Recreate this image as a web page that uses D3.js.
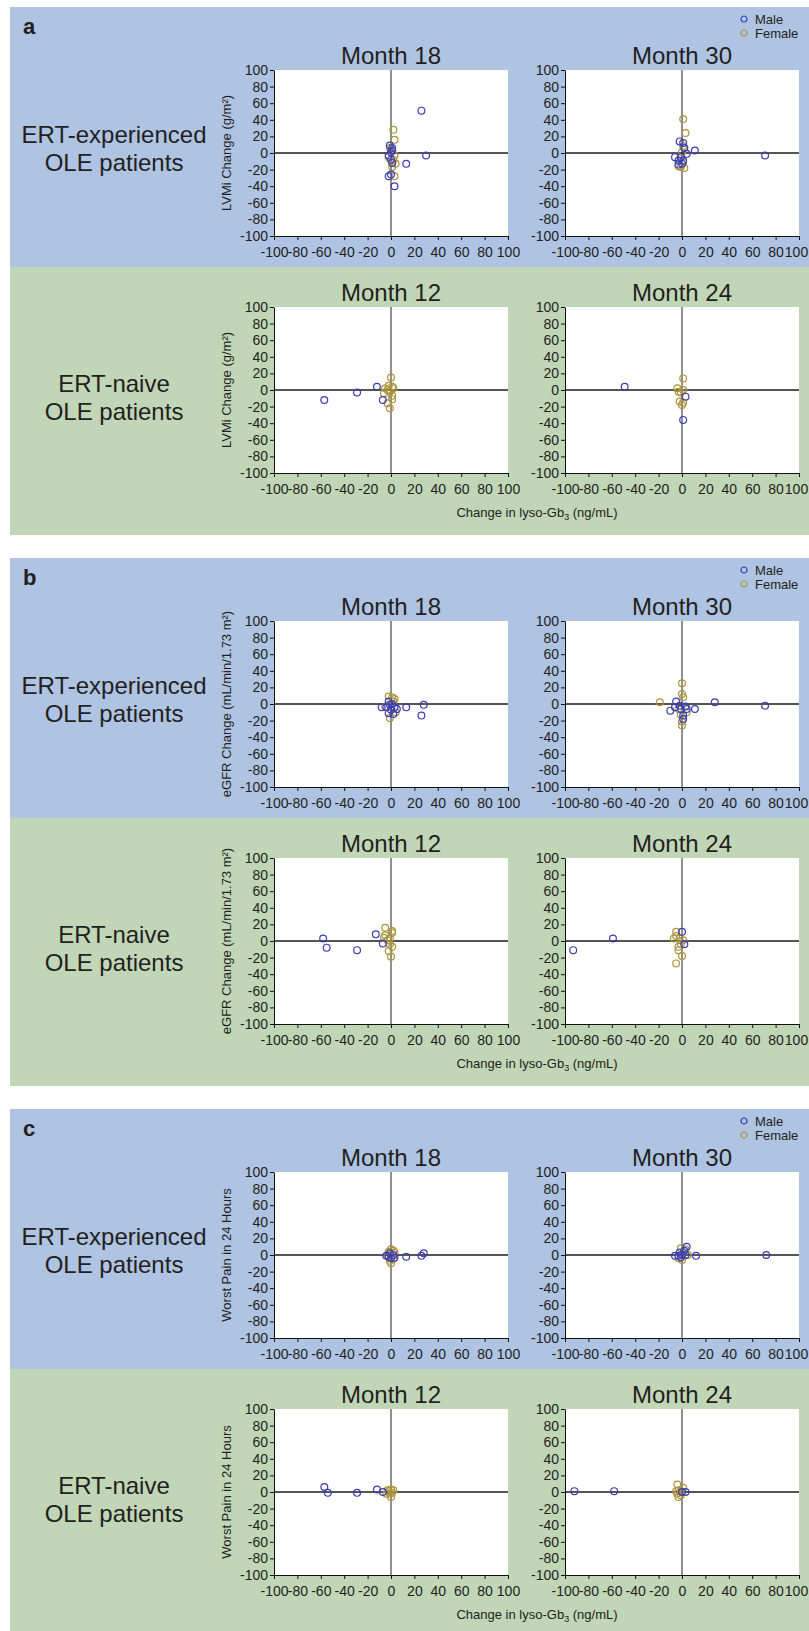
<!DOCTYPE html>
<html>
<head>
<meta charset="utf-8">
<script src="https://cdn.jsdelivr.net/npm/d3@7"></script>
<style>
  body { margin: 0; background: #fff; }
  svg text { font-family: Arial, 'Liberation Sans', Helvetica, sans-serif; fill: #231f20; }
</style>
</head>
<body>
<script>
const tickValues = [-100, -80, -60, -40, -20, 0, 20, 40, 60, 80, 100];
const sectionLetters = ['a', 'b', 'c'];
const rowLabels = [['ERT-experienced', 'OLE patients'], ['ERT-naive', 'OLE patients']];
const monthLabels = [['Month 18', 'Month 30'], ['Month 12', 'Month 24']];
const yAxisLabels = ['LVMi Change (g/m²)', 'eGFR Change (mL/min/1.73 m²)', 'Worst Pain in 24 Hours'];
const legendLabels = ['Male', 'Female'];

// [change in lyso-Gb3, change in outcome]
const lvmiExp18Male = [[26, 51], [30, -3], [13, -13], [3, -40], [-2, -28], [0, -26], [1, 6], [1, 3], [-2, -3], [0, -8], [1, -12], [-1, 9], [0, 1]];
const lvmiExp18Female = [[2, 28], [3, 16], [-1, 6], [-2, -5], [4, -13], [3, -28], [1, -17], [3, -3], [2, -8]];
const lvmiExp30Male = [[71, -3], [11, 3], [-2, 14], [1, 12], [-6, -5], [-3, -9], [-1, -5], [1, -9], [0, -13], [-3, -14], [4, -1], [2, 6]];
const lvmiExp30Female = [[1, 41], [3, 24], [1, 8], [0, 1], [-3, -16], [2, -18], [1, -11], [-1, -17]];
const lvmiNaive12Male = [[-57, -12], [-29, -3], [-12, 4], [-7, -12]];
const lvmiNaive12Female = [[0, 15], [-2, 5], [-5, 2], [-6, -4], [-3, 0], [2, 2], [1, -7], [1, -11], [-3, -16], [-1, -22], [-1, -2], [1, 4]];
const lvmiNaive24Male = [[-49, 4], [3, -8], [1, -36]];
const lvmiNaive24Female = [[1, 14], [-4, 2], [-3, -2], [1, 0], [-2, -14], [0, -18], [1, -15], [-1, -3]];

const egfrExp18Male = [[28, -1], [26, -14], [13, -4], [-8, -4], [-2, 3], [-1, -1], [1, 0], [3, -4], [-2, -11], [2, -12], [0, -7], [5, -6], [-4, -4]];
const egfrExp18Female = [[-2, 9], [1, 8], [3, 6], [-1, -17], [-5, -3], [2, 3], [4, -10]];
const egfrExp30Male = [[71, -2], [28, 2], [11, -6], [-5, 3], [-10, -8], [-6, -4], [-2, -2], [3, -3], [1, -14], [1, -18], [-1, -6], [4, -6]];
const egfrExp30Female = [[-19, 2], [0, 25], [0, 12], [1, 8], [4, -10], [0, -26], [-1, -13], [-3, -6], [0, -21]];
const egfrNaive12Male = [[-58, 3], [-55, -8], [-29, -11], [-13, 8], [-7, -3]];
const egfrNaive12Female = [[-5, 16], [-5, 7], [-6, 4], [-1, 3], [1, 12], [1, 10], [-1, -4], [1, -7], [-2, -12], [0, -19], [-3, 1]];
const egfrNaive24Male = [[-93, -11], [-59, 3], [0, 11], [2, -4]];
const egfrNaive24Female = [[-5, 11], [-7, 3], [-5, 6], [-2, 3], [-3, -7], [-3, -11], [0, -18], [-5, -27], [1, 1], [-1, -4]];

const painExp18Male = [[28, 2], [26, -1], [13, -2], [-4, -1], [-2, -2], [0, -4], [2, 0], [3, -3], [-1, 2]];
const painExp18Female = [[0, 7], [2, 5], [0, -10], [-1, -7], [3, 3], [-2, 4], [2, -5], [-3, 0]];
const painExp30Male = [[72, 0], [12, -1], [4, 10], [-6, -1], [-2, 3], [0, 0], [2, 5], [-3, -1], [3, 0], [-1, -3]];
const painExp30Female = [[0, -6], [-1, 8], [5, 0], [3, 7], [-3, -4], [1, 3]];
const painNaive12Male = [[-57, 6], [-54, -1], [-29, -1], [-12, 3], [-7, 0]];
const painNaive12Female = [[0, 3], [-2, 1], [1, -1], [0, -6], [-1, -2], [-3, 2], [2, 2], [-4, -2]];
const painNaive24Male = [[-92, 1], [-58, 1], [0, 0], [3, 0]];
const painNaive24Female = [[-4, 9], [-3, 2], [-4, -2], [-1, -4], [-3, -6], [-1, 0], [-5, 1], [1, 5]];

// sections -> rows (experienced, naive) -> months -> [male, female]
const panelData = [
  [[[lvmiExp18Male, lvmiExp18Female], [lvmiExp30Male, lvmiExp30Female]],
   [[lvmiNaive12Male, lvmiNaive12Female], [lvmiNaive24Male, lvmiNaive24Female]]],
  [[[egfrExp18Male, egfrExp18Female], [egfrExp30Male, egfrExp30Female]],
   [[egfrNaive12Male, egfrNaive12Female], [egfrNaive24Male, egfrNaive24Female]]],
  [[[painExp18Male, painExp18Female], [painExp30Male, painExp30Female]],
   [[painNaive12Male, painNaive12Female], [painNaive24Male, painNaive24Female]]]
];

const colors = ['#3a3eb2', '#ad943c'];
const bgColors = ['#afc3e2', '#c1d6b7'];

const width = 809;
const height = 1631;
const sectionTop = [7, 558, 1109];
const rowTop = [0, 260];
const rowHeight = [260, 268];
const plotTop = [63, 300];
const plotLeft = [274, 565];
const plotW = 234;
const plotH = 166;

const x = d3.scaleLinear().domain([-100, 100]).range([0, plotW]);
const y = d3.scaleLinear().domain([-100, 100]).range([plotH, 0]);

const svg = d3.select('body')
  .append('svg')
  .attr('width', width)
  .attr('height', height);

sectionLetters.forEach((letter, s) => {
  const sec = svg.append('g')
    .attr('transform', `translate(0,${sectionTop[s]})`);

  rowTop.forEach((rt, r) => {
    sec.append('rect')
      .attr('x', 10)
      .attr('y', rt)
      .attr('width', width - 10)
      .attr('height', rowHeight[r])
      .attr('fill', bgColors[r]);
  });

  sec.append('text')
    .attr('x', 23)
    .attr('y', 27)
    .style('font-size', '22px')
    .style('font-weight', 'bold')
    .text(letter);

  const legend = sec.selectAll('.legend')
    .data(legendLabels)
    .enter()
    .append('g')
    .attr('class', 'legend')
    .attr('transform', (d, i) => `translate(744,${12 + i * 14})`);

  legend.append('circle')
    .attr('r', 3)
    .attr('fill', 'none')
    .attr('stroke', (d, i) => colors[i])
    .attr('stroke-width', 1.2);

  legend.append('text')
    .attr('x', 11)
    .attr('dy', '0.35em')
    .style('font-size', '13px')
    .text(d => d);

  rowLabels.forEach((lines, r) => {
    const cy = plotTop[r] + plotH / 2;
    const off = r === 0 ? [-10, 18] : [2, 30];
    sec.append('text')
      .attr('text-anchor', 'middle')
      .attr('x', 114)
      .attr('y', cy)
      .style('font-size', '24px')
      .selectAll('tspan')
      .data(lines)
      .enter()
      .append('tspan')
      .attr('x', 114)
      .attr('y', (d, i) => cy + off[i])
      .text(d => d);

    sec.append('text')
      .attr('text-anchor', 'middle')
      .attr('transform', `translate(231,${cy}) rotate(-90)`)
      .style('font-size', '13px')
      .text(yAxisLabels[s]);

    monthLabels[r].forEach((month, m) => {
      const g = sec.append('g')
        .attr('transform', `translate(${plotLeft[m]},${plotTop[r]})`);

      g.append('text')
        .attr('text-anchor', 'middle')
        .attr('x', plotW / 2)
        .attr('y', -6)
        .style('font-size', '24px')
        .text(month);

      g.append('rect')
        .attr('width', plotW)
        .attr('height', plotH)
        .attr('fill', '#fff');

      g.append('line')
        .attr('x1', 0)
        .attr('x2', plotW)
        .attr('y1', y(0))
        .attr('y2', y(0))
        .attr('stroke', '#555')
        .attr('stroke-width', 1.8);

      g.append('line')
        .attr('x1', x(0))
        .attr('x2', x(0))
        .attr('y1', 0)
        .attr('y2', plotH)
        .attr('stroke', '#222')
        .attr('stroke-width', 1);

      const yAxis = g.append('g')
        .call(d3.axisLeft(y).tickValues(tickValues).tickFormat(d => `${d}`)
          .tickSize(4).tickPadding(2).tickSizeOuter(0));

      const xAxis = g.append('g')
        .attr('transform', `translate(0,${plotH})`)
        .call(d3.axisBottom(x).tickValues(tickValues).tickFormat(d => `${d}`)
          .tickSize(4).tickPadding(7).tickSizeOuter(0));

      [yAxis, xAxis].forEach(ax => {
        ax.attr('font-family', null).attr('font-size', null);
        ax.selectAll('text').style('font-size', '14px').attr('fill', '#231f20');
        ax.selectAll('line, path').attr('stroke', '#111');
      });

      // the last label of the right column sits against the page edge
      if (m === 1) {
        xAxis.selectAll('.tick text')
          .filter(d => d === 100)
          .attr('dx', -3);
      }

      const series = panelData[s][r][m];
      [1, 0].forEach(k => {
        g.selectAll(`.pt${k}`)
          .data(series[k])
          .enter()
          .append('circle')
          .attr('class', `pt${k}`)
          .attr('cx', d => x(d[0]))
          .attr('cy', d => y(d[1]))
          .attr('r', 3.4)
          .attr('fill', 'none')
          .attr('stroke', colors[k])
          .attr('stroke-width', 1.2);
      });
    });
  });

  const xl = sec.append('text')
    .attr('text-anchor', 'middle')
    .attr('x', 537)
    .attr('y', 510)
    .style('font-size', '13px');
  xl.append('tspan').text('Change in lyso-Gb');
  xl.append('tspan').attr('dy', 3).style('font-size', '9px').text('3');
  xl.append('tspan').attr('dy', -3).text(' (ng/mL)');
});
</script>
</body>
</html>
